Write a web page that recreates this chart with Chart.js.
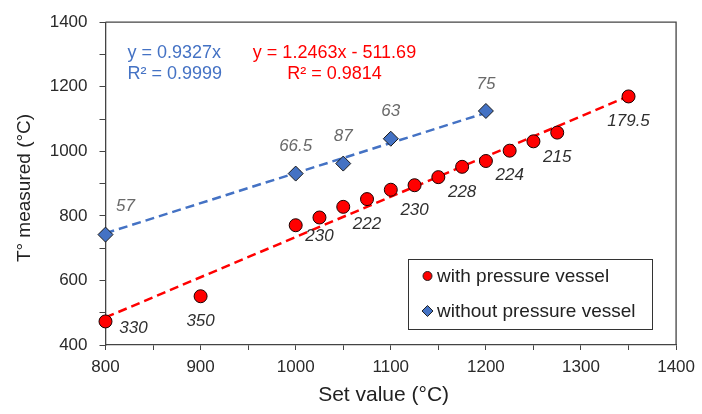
<!DOCTYPE html>
<html>
<head>
<meta charset="utf-8">
<script src="https://cdn.jsdelivr.net/npm/chart.js@4/dist/chart.umd.min.js"></script>
<style>
  html, body { margin: 0; padding: 0; background: #fff; }
  #wrap { width: 702px; height: 414px; }
</style>
</head>
<body>
<div id="wrap"><canvas id="c" width="702" height="414"></canvas></div>
<script>
// ---- Data ----
const setValuesWith = [800, 900, 1000, 1025, 1050, 1075, 1100, 1125, 1150, 1175, 1200, 1225, 1250, 1275, 1350];
const measuredWith  = [473, 551, 771, 795, 828, 852, 881, 895, 920, 952, 970, 1002, 1031, 1058, 1170];
const labelsWith    = ['330', '350', '', '230', '', '222', '', '230', '', '228', '', '224', '', '215', '179.5'];

const setValuesWithout = [800, 1000, 1050, 1100, 1200];
const measuredWithout  = [742, 931, 962, 1039, 1125];
const labelsWithout    = ['57', '66.5', '87', '63', '75'];

const trendWith    = { slope: 1.2463, intercept: -511.69, r2: '0.9814', from: 800, to: 1350 };
const trendWithout = { slope: 0.9327, intercept: 0, r2: '0.9999', from: 800, to: 1200 };

const seriesNames = ['with pressure vessel', 'without pressure vessel'];
const xTitle = 'Set value (°C)';
const yTitle = 'T° measured (°C)';

// ---- Styling ----
const FONT = '"Liberation Sans", Arial, sans-serif';
const RED = '#FF0000';
const BLUE = '#4472C4';

const pts = (xs, ys) => xs.map((x, i) => ({ x: x, y: ys[i] }));
const trendPts = t => [t.from, t.to].map(x => ({ x: x, y: t.slope * x + t.intercept }));

const labelOffsetsWith = { def: [0, 25], 0: [28, 7], 3: [0, 19] };
const labelOffsetsWithout = { def: [0, -27], 0: [20, -28] };

const overlay = {
  id: 'overlay',
  afterDatasetsDraw(chart) {
    const ctx = chart.ctx;
    const a = chart.chartArea;
    ctx.save();
    // top and right frame
    ctx.strokeStyle = '#444';
    ctx.lineWidth = 1.3;
    ctx.beginPath();
    ctx.moveTo(a.left, a.top);
    ctx.lineTo(a.right, a.top);
    ctx.lineTo(a.right, a.bottom);
    ctx.stroke();

    // data labels
    ctx.font = 'italic 17px ' + FONT;
    ctx.textAlign = 'center';
    ctx.textBaseline = 'middle';
    const drawLabels = (dsIndex, labels, offs, color) => {
      const meta = chart.getDatasetMeta(dsIndex);
      ctx.fillStyle = color;
      labels.forEach((t, i) => {
        if (!t) return;
        const el = meta.data[i];
        const o = offs[i] || offs.def;
        ctx.fillText(t, el.x + o[0], el.y + o[1]);
      });
    };
    drawLabels(0, labelsWith, labelOffsetsWith, '#2f2f2f');
    drawLabels(1, labelsWithout, labelOffsetsWithout, '#6a6a6a');

    // trendline equations
    ctx.font = '18px ' + FONT;
    ctx.fillStyle = BLUE;
    ctx.textAlign = 'left';
    ctx.fillText('y = ' + trendWithout.slope + 'x', 127.5, 53);
    ctx.fillText('R² = ' + trendWithout.r2, 127.5, 74);
    ctx.fillStyle = RED;
    ctx.textAlign = 'center';
    ctx.fillText('y = ' + trendWith.slope + 'x - ' + Math.abs(trendWith.intercept), 334.5, 53);
    ctx.fillText('R² = ' + trendWith.r2, 334.5, 74);

    // legend
    ctx.fillStyle = '#fff';
    ctx.fillRect(408.5, 259.5, 244, 70);
    ctx.strokeStyle = '#333';
    ctx.lineWidth = 1;
    ctx.strokeRect(408.5, 259.5, 244, 70);
    ctx.beginPath();
    ctx.arc(427.5, 276, 4.5, 0, Math.PI * 2);
    ctx.fillStyle = RED; ctx.fill();
    ctx.strokeStyle = '#222'; ctx.stroke();
    ctx.beginPath();
    ctx.moveTo(427.5, 305.5); ctx.lineTo(433, 311); ctx.lineTo(427.5, 316.5); ctx.lineTo(422, 311); ctx.closePath();
    ctx.fillStyle = BLUE; ctx.fill();
    ctx.strokeStyle = '#222'; ctx.stroke();
    ctx.font = '19px ' + FONT;
    ctx.fillStyle = '#222';
    ctx.textAlign = 'left';
    ctx.fillText(seriesNames[0], 437, 277);
    ctx.fillText(seriesNames[1], 437, 312);

    // axis titles
    ctx.font = '21px ' + FONT;
    ctx.fillStyle = '#222';
    ctx.textAlign = 'center';
    ctx.fillText(xTitle, 383.6, 395);
    ctx.translate(25, 188);
    ctx.rotate(-Math.PI / 2);
    ctx.font = '19px ' + FONT;
    ctx.fillText(yTitle, 0, 0);
    ctx.restore();
  }
};

new Chart(document.getElementById('c'), {
  type: 'scatter',
  data: {
    datasets: [
      {
        label: seriesNames[0],
        data: pts(setValuesWith, measuredWith),
        pointStyle: 'circle',
        pointRadius: 6.5,
        backgroundColor: RED,
        borderColor: '#1a0000',
        borderWidth: 1,
        clip: false,
        order: 0
      },
      {
        label: seriesNames[1],
        data: pts(setValuesWithout, measuredWithout),
        pointStyle: 'rectRot',
        pointRadius: 7.5,
        backgroundColor: BLUE,
        borderColor: '#1a1a1a',
        borderWidth: 1,
        clip: false,
        order: 1
      },
      {
        label: 'trend with',
        data: trendPts(trendWith),
        showLine: true,
        pointRadius: 0,
        borderColor: RED,
        borderWidth: 2.5,
        borderDash: [9, 5],
        order: 2
      },
      {
        label: 'trend without',
        data: trendPts(trendWithout),
        showLine: true,
        pointRadius: 0,
        borderColor: BLUE,
        borderWidth: 2.5,
        borderDash: [9, 5],
        order: 3
      }
    ]
  },
  options: {
    responsive: false,
    animation: false,
    events: [],
    layout: { padding: { top: 20, right: 21, left: 0, bottom: 0 } },
    plugins: { legend: { display: false }, tooltip: { enabled: false } },
    scales: {
      x: {
        type: 'linear',
        min: 800, max: 1400,
        afterFit: s => { s.height = 69; },
        ticks: {
          stepSize: 50,
          autoSkip: false,
          maxRotation: 0,
          padding: 7,
          color: '#2a2a2a',
          font: { family: FONT, size: 17 },
          callback: v => (v % 100 === 0 ? String(v) : '')
        },
        grid: { display: true, drawOnChartArea: false, drawTicks: true, tickLength: 5, tickColor: '#444', tickWidth: 1 },
        border: { display: true, color: '#444', width: 1.3 }
      },
      y: {
        type: 'linear',
        min: 400, max: 1400,
        afterFit: s => { s.width = 105.5; },
        ticks: {
          stepSize: 100,
          autoSkip: false,
          padding: 12,
          color: '#2a2a2a',
          font: { family: FONT, size: 17 },
          callback: v => (v % 200 === 0 ? String(v) : '')
        },
        grid: { display: true, drawOnChartArea: false, drawTicks: true, tickLength: 6, tickColor: '#444', tickWidth: 1 },
        border: { display: true, color: '#444', width: 1.3 }
      }
    }
  },
  plugins: [overlay]
});
</script>
</body>
</html>
